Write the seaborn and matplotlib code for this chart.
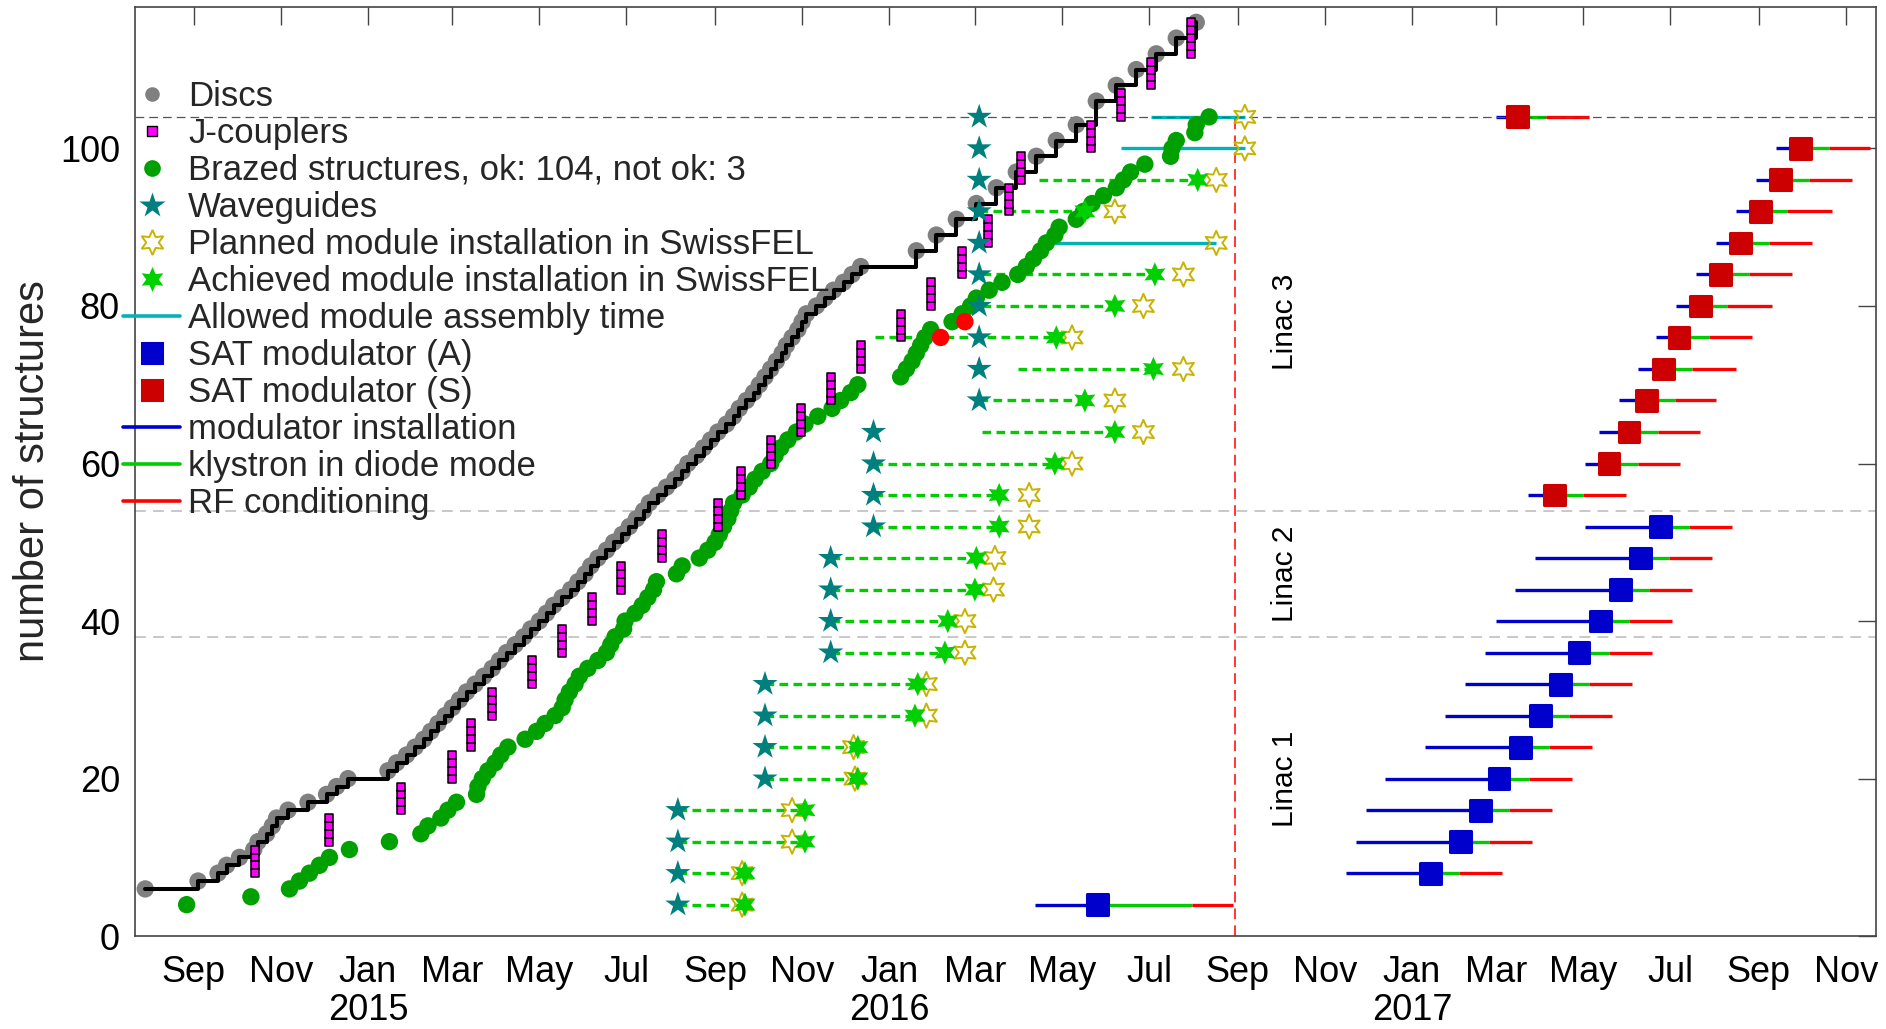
import matplotlib
matplotlib.use("Agg")
import matplotlib.pyplot as plt
from matplotlib.lines import Line2D
import numpy as np
import pandas as pd
import seaborn as sns

# ---- discs (cumulative count, staircase) ----
disc_dates = [
    "2014-07-29", "2014-09-04", "2014-09-18", "2014-09-24", "2014-10-03", "2014-10-13",
    "2014-10-16", "2014-10-22", "2014-10-26", "2014-10-29", "2014-11-06", "2014-11-20",
    "2014-12-03", "2014-12-10", "2014-12-18",
    "2015-01-15", "2015-01-21", "2015-01-28", "2015-02-03", "2015-02-09", "2015-02-14",
    "2015-02-19", "2015-02-24", "2015-03-01", "2015-03-06", "2015-03-11", "2015-03-17",
    "2015-03-23", "2015-03-29", "2015-04-03", "2015-04-08", "2015-04-14", "2015-04-20",
    "2015-04-25", "2015-05-01", "2015-05-06", "2015-05-11", "2015-05-17", "2015-05-23",
    "2015-05-28", "2015-06-02", "2015-06-06", "2015-06-11", "2015-06-17", "2015-06-22",
    "2015-06-28", "2015-07-03", "2015-07-08", "2015-07-13",
    "2015-07-17", "2015-07-23", "2015-07-29", "2015-08-04", "2015-08-09", "2015-08-13",
    "2015-08-19", "2015-08-24", "2015-08-29", "2015-09-03", "2015-09-09", "2015-09-14",
    "2015-09-18", "2015-09-23", "2015-09-28", "2015-10-02", "2015-10-06", "2015-10-10",
    "2015-10-14", "2015-10-18", "2015-10-21", "2015-10-25", "2015-10-29", "2015-11-01",
    "2015-11-04", "2015-11-11", "2015-11-17", "2015-11-23", "2015-11-30", "2015-12-06",
    "2015-12-12",
    "2016-01-20", "2016-02-03", "2016-02-17", "2016-03-02", "2016-03-16", "2016-03-30",
    "2016-04-13", "2016-04-27", "2016-05-11", "2016-05-25", "2016-06-08", "2016-06-22",
    "2016-07-06", "2016-07-20", "2016-08-03",
]
disc_counts = [
    6, 7, 8, 9, 10, 11, 12, 13, 14, 15, 16, 17, 18, 19, 20,
    21, 22, 23, 24, 25, 26, 27, 28, 29, 30, 31, 32, 33, 34, 35, 36, 37, 38, 39, 40,
    41, 42, 43, 44, 45, 46, 47, 48, 49, 50, 51, 52, 53, 54,
    55, 56, 57, 58, 59, 60, 61, 62, 63, 64, 65, 66, 67, 68, 69, 70, 71, 72, 73, 74,
    75, 76, 77, 78, 79, 80, 81, 82, 83, 84, 85,
    87, 89, 91, 93, 95, 97, 99, 101, 103, 106, 108, 110, 112, 114, 116,
]

# ---- J-couplers (groups of stacked couplers) ----
jc_dates = [
    "2014-10-14", "2014-12-05", "2015-01-24", "2015-03-01", "2015-03-14", "2015-03-29",
    "2015-04-26", "2015-05-17", "2015-06-07", "2015-06-27", "2015-07-26", "2015-09-03",
    "2015-09-19", "2015-10-10", "2015-10-31", "2015-11-21", "2015-12-12", "2016-01-09",
    "2016-01-30", "2016-02-21", "2016-03-10", "2016-03-25", "2016-04-02", "2016-05-21",
    "2016-06-11", "2016-07-02", "2016-07-30",
]
jc_first = [8, 12, 16, 20, 24, 28, 32, 36, 40, 44, 48, 52, 56, 60, 64, 68, 72, 76,
            80, 84, 88, 92, 96, 100, 104, 108, 112]
jc_size = [4] * 26 + [5]

# ---- brazed structures ----
brazed_dates = [
    "2014-08-27", "2014-10-11", "2014-11-07", "2014-11-14", "2014-11-21", "2014-11-28",
    "2014-12-05", "2014-12-19", "2015-01-16", "2015-02-07", "2015-02-12", "2015-02-21",
    "2015-02-26", "2015-03-04", "2015-03-18", "2015-03-19", "2015-03-22", "2015-03-26",
    "2015-03-31", "2015-04-04", "2015-04-09", "2015-04-21", "2015-04-29", "2015-05-05",
    "2015-05-12", "2015-05-17", "2015-05-19", "2015-05-22", "2015-05-26", "2015-05-29",
    "2015-06-04", "2015-06-11", "2015-06-17", "2015-06-20", "2015-06-23", "2015-06-29",
    "2015-06-30", "2015-07-07", "2015-07-12", "2015-07-16", "2015-07-20", "2015-07-22",
    "2015-08-05", "2015-08-09", "2015-08-21", "2015-08-27", "2015-09-01", "2015-09-04",
    "2015-09-07", "2015-09-10", "2015-09-12", "2015-09-14", "2015-09-20", "2015-09-25",
    "2015-09-29", "2015-10-04", "2015-10-10", "2015-10-13", "2015-10-17", "2015-10-22",
    "2015-10-28", "2015-11-03", "2015-11-12", "2015-11-22", "2015-11-28", "2015-12-05",
    "2015-12-10", "2016-01-09", "2016-01-13", "2016-01-17", "2016-01-20", "2016-01-23",
    "2016-01-26", "2016-01-30", "2016-02-14", "2016-02-21", "2016-02-27", "2016-03-02",
    "2016-03-11", "2016-03-20", "2016-03-31", "2016-04-06", "2016-04-11", "2016-04-16",
    "2016-04-20", "2016-04-26", "2016-04-29", "2016-05-11", "2016-05-16", "2016-05-22",
    "2016-05-30", "2016-06-08", "2016-06-13", "2016-06-18", "2016-06-28", "2016-07-16",
    "2016-07-17", "2016-07-20", "2016-08-02", "2016-08-03", "2016-08-12",
]
brazed_counts = list(range(4, 105))
bad_dates = ["2016-02-06", "2016-02-23"]
bad_counts = [76, 78]

# ---- module rows: waveguides, installation ----
rows = [4, 8, 12, 16, 20, 24, 28, 32, 36, 40, 44, 48, 52, 56, 60, 64, 68, 72, 76,
        80, 84, 88, 92, 96, 100, 104]
waveguide = [
    "2015-08-06", "2015-08-06", "2015-08-06", "2015-08-06",
    "2015-10-06", "2015-10-06", "2015-10-06", "2015-10-06",
    "2015-11-21", "2015-11-21", "2015-11-21", "2015-11-21",
    "2015-12-21", "2015-12-21", "2015-12-21", "2015-12-21",
    "2016-03-04", "2016-03-04", "2016-03-04", "2016-03-04", "2016-03-04",
    "2016-03-04", "2016-03-04", "2016-03-04", "2016-03-04", "2016-03-04",
]
dash_start = [
    "2015-08-06", "2015-08-06", "2015-08-06", "2015-08-06",
    "2015-10-06", "2015-10-06", "2015-10-06", "2015-10-06",
    "2015-11-21", "2015-11-21", "2015-11-21", "2015-11-21",
    "2015-12-21", "2015-12-21", "2015-12-21", "2016-03-06", "2016-03-04",
    "2016-03-31", "2015-12-22", "2016-03-06", "2016-03-06", None, "2016-03-04",
    "2016-04-15", None, None,
]
achieved = [
    "2015-09-22", "2015-09-22", "2015-11-03", "2015-11-03", "2015-12-10", "2015-12-10",
    "2016-01-19", "2016-01-21", "2016-02-09", "2016-02-11", "2016-03-01", "2016-03-02",
    "2016-03-18", "2016-03-18", "2016-04-26", "2016-06-07", "2016-05-17", "2016-07-04",
    "2016-04-27", "2016-06-07", "2016-07-05", None, "2016-05-17", "2016-08-04", None, None,
]
planned = [
    "2015-09-20", "2015-09-20", "2015-10-25", "2015-10-25", "2015-12-08", "2015-12-07",
    "2016-01-27", "2016-01-27", "2016-02-23", "2016-02-23", "2016-03-14", "2016-03-15",
    "2016-04-08", "2016-04-08", "2016-05-08", "2016-06-27", "2016-06-07", "2016-07-25",
    "2016-05-08", "2016-06-27", "2016-07-25", "2016-08-17", "2016-06-07", "2016-08-17",
    "2016-09-06", "2016-09-06",
]
allowed_start = [None] * 21 + ["2016-04-18", None, None, "2016-06-11", "2016-07-02"]

# ---- SAT modulators ----
mod_type = ["A"] * 13 + ["S"] * 13
mod_start = [
    "2016-04-12", "2016-11-16", "2016-11-23", "2016-11-30", "2016-12-13", "2017-01-10",
    "2017-01-24", "2017-02-07", "2017-02-21", "2017-03-01", "2017-03-14", "2017-03-28",
    "2017-05-02", "2017-03-23", "2017-05-02", "2017-05-12", "2017-05-26", "2017-06-08",
    "2017-06-21", "2017-07-05", "2017-07-19", "2017-08-02", "2017-08-16", "2017-08-30",
    "2017-09-13", "2017-03-01",
]
mod_ready = [
    "2016-05-26", "2017-01-14", "2017-02-04", "2017-02-18", "2017-03-03", "2017-03-18",
    "2017-04-01", "2017-04-15", "2017-04-28", "2017-05-13", "2017-05-27", "2017-06-10",
    "2017-06-24", "2017-04-11", "2017-05-19", "2017-06-02", "2017-06-14", "2017-06-26",
    "2017-07-07", "2017-07-22", "2017-08-05", "2017-08-19", "2017-09-02", "2017-09-16",
    "2017-09-30", "2017-03-16",
]
diode_end = [
    "2016-07-31", "2017-02-03", "2017-02-24", "2017-03-10", "2017-03-24", "2017-04-07",
    "2017-04-21", "2017-05-05", "2017-05-19", "2017-06-02", "2017-06-16", "2017-06-30",
    "2017-07-14", "2017-05-01", "2017-06-08", "2017-06-22", "2017-07-04", "2017-07-16",
    "2017-07-28", "2017-08-10", "2017-08-25", "2017-09-08", "2017-09-21", "2017-10-06",
    "2017-10-20", "2017-04-05",
]
rf_end = [
    "2016-08-29", "2017-03-05", "2017-03-26", "2017-04-09", "2017-04-23", "2017-05-07",
    "2017-05-21", "2017-06-04", "2017-06-18", "2017-07-02", "2017-07-16", "2017-07-30",
    "2017-08-13", "2017-05-31", "2017-07-08", "2017-07-22", "2017-08-02", "2017-08-16",
    "2017-08-27", "2017-09-10", "2017-09-24", "2017-10-08", "2017-10-22", "2017-11-05",
    "2017-11-18", "2017-05-05",
]

linac_names = ["Linac 1", "Linac 2", "Linac 3"]
linac_label_y = [20, 46, 78]
linac_bounds = [38, 54]
last_row = 104
deadline = "2016-08-30"
linac_label_date = "2016-10-04"

# colours
GRAY = "#808080"
MAGENTA = "#ff00ff"
BRAZED = "#00a000"
TEAL = "#007f7f"
YELLOW = "#c9b300"
ACHIEVED = "#00d000"
DASHGREEN = "#00cc00"
CYAN = "#00b4b4"
BLUE = "#0000cc"
DARKRED = "#cc0000"
RED = "#ff0000"

# ---- frames ----
discs = pd.DataFrame({"date": pd.to_datetime(disc_dates), "n": disc_counts})
jc = pd.DataFrame({
    "date": np.repeat(pd.to_datetime(jc_dates).values, jc_size),
    "n": np.concatenate([np.arange(f, f + k) for f, k in zip(jc_first, jc_size)]),
})
brazed = pd.DataFrame({"date": pd.to_datetime(brazed_dates), "n": brazed_counts})
bad = pd.DataFrame({"date": pd.to_datetime(bad_dates), "n": bad_counts})
inst = pd.DataFrame({
    "row": rows,
    "waveguide": pd.to_datetime(waveguide),
    "dash_start": pd.to_datetime(dash_start),
    "achieved": pd.to_datetime(achieved),
    "planned": pd.to_datetime(planned),
    "allowed_start": pd.to_datetime(allowed_start),
})
mod = pd.DataFrame({
    "row": rows,
    "type": mod_type,
    "start": pd.to_datetime(mod_start),
    "ready": pd.to_datetime(mod_ready),
    "diode": pd.to_datetime(diode_end),
    "rf": pd.to_datetime(rf_end),
})

sns.set_theme(style="white")
plt.rcParams["font.family"] = ["Liberation Sans", "DejaVu Sans"]

fig = plt.figure(figsize=(18.86, 10.29), dpi=100)
ax = fig.add_axes([0.0717, 0.0902, 0.9230, 0.9034])

# reference lines
for yb in linac_bounds:
    ax.axhline(yb, color="#c4c4c4", lw=1.3, ls=(0, (6, 4)), zorder=1)
ax.axhline(last_row, color="#555555", lw=0.9, ls=(0, (7, 4)), zorder=2.6)
ax.vlines(pd.Timestamp(deadline), 0, last_row, color=RED, lw=1.1, ls=(0, (7, 4)), zorder=1.5)

# modulator phases
ax.hlines(mod["row"], mod["start"], mod["ready"], color=BLUE, lw=2.4, zorder=2)
ax.hlines(mod["row"], mod["ready"], mod["diode"], color=DASHGREEN, lw=2.4, zorder=2)
ax.hlines(mod["row"], mod["diode"], mod["rf"], color=RED, lw=2.4, zorder=2)
sns.scatterplot(data=mod, x="ready", y="row", hue="type", palette={"A": BLUE, "S": DARKRED},
                marker="s", s=15 ** 2, edgecolor="face", linewidth=2.2, legend=False,
                ax=ax, zorder=3)

# installation timelines
d = inst.dropna(subset=["dash_start", "achieved"])
ax.hlines(d["row"], d["dash_start"], d["achieved"], color=DASHGREEN, lw=2.4,
          linestyles=[(0, (2.6, 1.6))], zorder=2)
a = inst.dropna(subset=["allowed_start"])
ax.hlines(a["row"], a["allowed_start"], a["planned"], color=CYAN, lw=2.4, zorder=2)

# discs staircase
sns.scatterplot(data=discs, x="date", y="n", color=GRAY, s=12.5 ** 2, edgecolor="none",
                ax=ax, zorder=2.8)
sns.lineplot(data=discs, x="date", y="n", color="black", lw=2.9, drawstyle="steps-post",
             errorbar=None, ax=ax, zorder=3)

# brazed structures
sns.scatterplot(data=brazed, x="date", y="n", color=BRAZED, s=12.5 ** 2, edgecolor="none",
                ax=ax, zorder=3.2)
sns.scatterplot(data=bad, x="date", y="n", color=RED, s=12.5 ** 2, edgecolor="none",
                ax=ax, zorder=3.3)

# J-couplers
sns.scatterplot(data=jc, x="date", y="n", color=MAGENTA, marker="s", s=6.3 ** 2,
                edgecolor="black", linewidth=1.1, ax=ax, zorder=4)

# stars
sns.scatterplot(data=inst, x="waveguide", y="row", color=TEAL, marker="*", s=19 ** 2,
                edgecolor="none", ax=ax, zorder=4)
sns.scatterplot(data=inst, x="planned", y="row", color=YELLOW, marker=(6, 1, 0), s=17.5 ** 2,
                facecolor="none", edgecolor=YELLOW, linewidth=1.4, ax=ax, zorder=4.1)
sns.scatterplot(data=inst.dropna(subset=["achieved"]), x="achieved", y="row", color=ACHIEVED,
                marker=(6, 1, 0), s=17.5 ** 2, edgecolor="none", ax=ax, zorder=4.2)

for name, yl in zip(linac_names, linac_label_y):
    ax.text(pd.Timestamp(linac_label_date), yl, name, rotation=90, ha="center",
            va="center", fontsize=21.5, color="black")

# axes
ax.set_xlim(pd.Timestamp("2014-07-22"), pd.Timestamp("2017-11-22"))
ax.set_ylim(0, 118)
ticks = pd.date_range("2014-09-01", "2017-11-01", freq="2MS")
labels = [t.strftime("%b") + ("\n" + str(t.year) if t.month == 1 else "") for t in ticks]
ax.set_xticks(ticks)
ax.set_xticklabels(labels)
ax.set_yticks([0, 20, 40, 60, 80, 100])
ax.tick_params(axis="both", direction="in", length=13, width=1.0, color="#444444",
               top=True, right=True, labelsize=26, labelcolor="black")
ax.tick_params(axis="x", pad=13.5)
ax.tick_params(axis="y", pad=11)
for lbl in ax.get_xticklabels():
    lbl.set_linespacing(1.12)
for sp in ax.spines.values():
    sp.set_color("#444444")
    sp.set_linewidth(1.2)
ax.set_xlabel("")
ax.set_ylabel("number of structures", fontsize=30)
ax.yaxis.set_label_coords(-0.047, 0.5)

# legend
handles = [
    Line2D([], [], ls="none", marker="o", ms=10.5, mfc=GRAY, mec="none"),
    Line2D([], [], ls="none", marker="s", ms=6.5, mfc=MAGENTA, mec="black", mew=1.0),
    Line2D([], [], ls="none", marker="o", ms=12, mfc=BRAZED, mec="none"),
    Line2D([], [], ls="none", marker="*", ms=19, mfc=TEAL, mec="none"),
    Line2D([], [], ls="none", marker=(6, 1, 0), ms=18, mfc="none", mec=YELLOW, mew=1.4),
    Line2D([], [], ls="none", marker=(6, 1, 0), ms=18, mfc=ACHIEVED, mec="none"),
    Line2D([], [], color=CYAN, lw=2.6),
    Line2D([], [], ls="none", marker="s", ms=15, mfc=BLUE, mec=BLUE, mew=2.2),
    Line2D([], [], ls="none", marker="s", ms=15, mfc=DARKRED, mec=DARKRED, mew=2.2),
    Line2D([], [], color=BLUE, lw=2.6),
    Line2D([], [], color=DASHGREEN, lw=2.6),
    Line2D([], [], color=RED, lw=2.6),
]
legend_labels = [
    "Discs", "J-couplers", "Brazed structures, ok: 104, not ok: 3", "Waveguides",
    "Planned module installation in SwissFEL", "Achieved module installation in SwissFEL",
    "Allowed module assembly time", "SAT modulator (A)", "SAT modulator (S)",
    "modulator installation", "klystron in diode mode", "RF conditioning",
]
fig.legend(handles, legend_labels, loc="upper left", bbox_to_anchor=(123 / 1886, 1 - 80 / 1029),
           frameon=False, fontsize=25, handlelength=1.65, handletextpad=0.23,
           labelspacing=0.115, borderpad=0, borderaxespad=0)

fig.savefig("out.png", dpi=100)
